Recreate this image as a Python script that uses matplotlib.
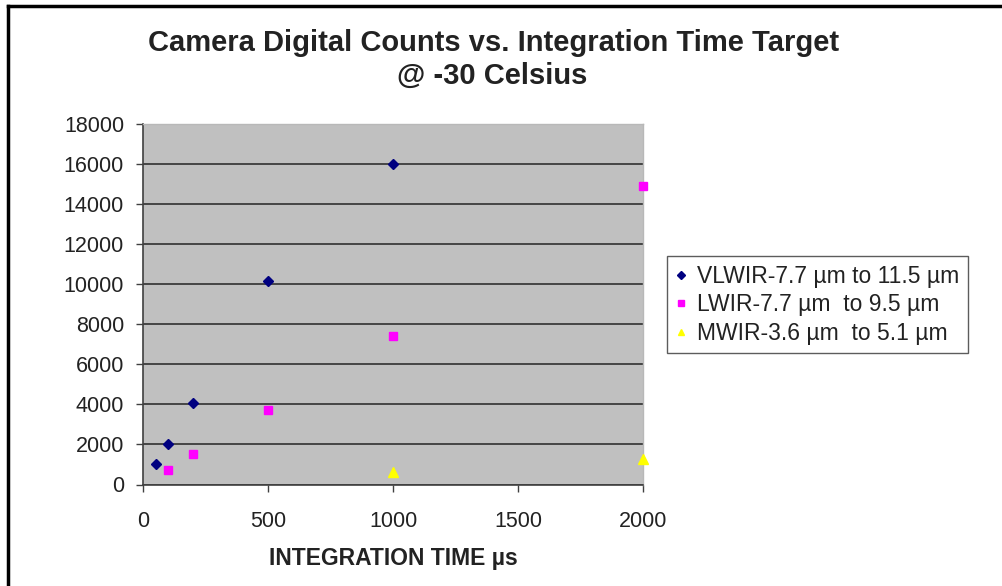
import matplotlib
matplotlib.use("Agg")
import matplotlib.pyplot as plt
from matplotlib.lines import Line2D

plt.rcParams['font.family'] = ['Liberation Sans', 'DejaVu Sans']

# Data
vlwir_x = [50, 100, 200, 500, 1000]
vlwir_y = [1000, 2000, 4050, 10150, 16000]
lwir_x = [100, 200, 500, 1000, 2000]
lwir_y = [700, 1500, 3720, 7420, 14900]
mwir_x = [1000, 2000]
mwir_y = [600, 1250]

labels = ["VLWIR-7.7 \u00b5m to 11.5 \u00b5m",
          "LWIR-7.7 \u00b5m  to 9.5 \u00b5m",
          "MWIR-3.6 \u00b5m  to 5.1 \u00b5m"]
x_ticks = [0, 500, 1000, 1500, 2000]
y_ticks = list(range(0, 18001, 2000))

W, H = 1003, 586
fig = plt.figure(figsize=(W / 100, H / 100), dpi=100)
fig.patch.set_facecolor('white')

ax = fig.add_axes([143.5 / W, 1 - 484.5 / H, (643 - 143.5) / W, (484.5 - 124) / H])
ax.set_facecolor('#c0c0c0')
ax.set_xlim(0, 2000)
ax.set_ylim(0, 18000)
ax.set_xticks(x_ticks)
ax.set_yticks(y_ticks)
ax.yaxis.grid(True, color='#3c3c3c', linewidth=1.3)
ax.set_axisbelow(True)

for s in ['left', 'bottom']:
    ax.spines[s].set_color('#404040')
    ax.spines[s].set_linewidth(1.2)
for s in ['top', 'right']:
    ax.spines[s].set_color('#b8b8b8')
    ax.spines[s].set_linewidth(1.0)

ax.tick_params(axis='both', direction='out', length=5, width=1.0, color='#404040',
               labelsize=15.5, labelcolor='#222222')
ax.tick_params(axis='x', pad=14)
ax.tick_params(axis='y', pad=9)

ax.plot(vlwir_x, vlwir_y, linestyle='none', marker='D', markersize=5.5,
        color='#000080', label=labels[0], clip_on=False, zorder=3)
ax.plot(lwir_x, lwir_y, linestyle='none', marker='s', markersize=6,
        color='#ff00ff', label=labels[1], clip_on=False, zorder=3)
ax.plot(mwir_x, mwir_y, linestyle='none', marker='^', markersize=7,
        color='#ffff00', label=labels[2], clip_on=False, zorder=3)

ax.set_xlabel("INTEGRATION TIME \u00b5s", fontsize=16.5, fontweight='bold',
              color='#222222', labelpad=11)

fig.text(494 / W, 1 - 43 / H, "Camera Digital Counts vs. Integration Time Target",
         ha='center', va='center', fontsize=21, fontweight='bold', color='#222222')
fig.text(492 / W, 1 - 76 / H, "@ -30 Celsius",
         ha='center', va='center', fontsize=21, fontweight='bold', color='#222222')

leg = ax.legend(loc='upper left', bbox_to_anchor=(667 / W, 1 - 256 / H),
                bbox_transform=fig.transFigure, borderaxespad=0, fancybox=False,
                frameon=True, fontsize=16.5, handlelength=0.5, handletextpad=0.45,
                markerscale=0.7, labelspacing=0.24, borderpad=0.38)
leg.get_frame().set_edgecolor('#333333')
leg.get_frame().set_linewidth(1.0)
for t in leg.get_texts():
    t.set_color('#222222')

# outer chart border (top and left visible)
fig.add_artist(Line2D([8 / W, 1], [1 - 6 / H, 1 - 6 / H], transform=fig.transFigure,
                      color='black', linewidth=2.5))
fig.add_artist(Line2D([8 / W, 8 / W], [0, 1 - 6 / H], transform=fig.transFigure,
                      color='black', linewidth=2.5))

fig.savefig('out.png', dpi=100)
